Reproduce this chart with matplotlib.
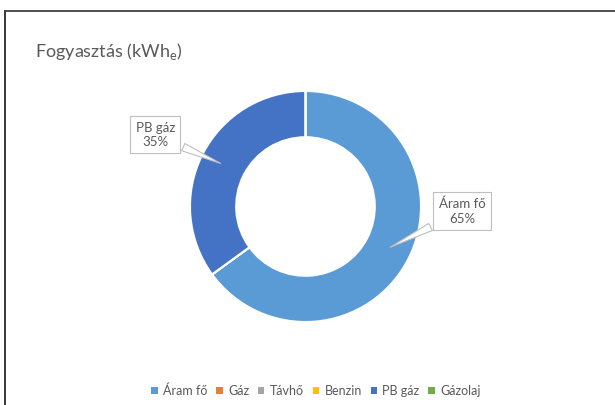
import matplotlib

matplotlib.use("Agg")
import matplotlib.pyplot as plt
import numpy as np
from matplotlib.lines import Line2D
from matplotlib.patches import Patch

plt.rcParams["font.family"] = ["Lato", "DejaVu Sans"]

categories = ["Áram fő", "Gáz", "Távhő", "Benzin", "PB gáz", "Gázolaj"]
shares = [65, 0, 0, 0, 35, 0]
colors = ["#5B9BD5", "#ED7D31", "#A5A5A5", "#FFC000", "#4472C4", "#70AD47"]
title = "Fogyasztás (kWh$_\\mathregular{e}$)"

TEXT = "#595959"
W, H = 615, 405

fig = plt.figure(figsize=(W / 100, H / 100), dpi=100)

# donut axes: centre at (305.5, 206.5) px from top-left, radius 115.5 px
cx, cy, r_px = 305.5, 206.5, 115.5
half = 120
ax = fig.add_axes([(cx - half) / W, (H - cy - half) / H, 2 * half / W, 2 * half / H])
lim = half / r_px

wedges, _ = ax.pie(
    shares, colors=colors, startangle=90, counterclock=False, radius=1,
    wedgeprops=dict(width=0.4, edgecolor="white", linewidth=1.5),
)
ax.set_xlim(-lim, lim)
ax.set_ylim(-lim, lim)
ax.set_aspect("equal")
ax.axis("off")

# callout boxes (position of each label box in data units)
label_pos = {"Áram fő": (1.355, -0.04), "PB gáz": (-1.30, 0.62)}
total = sum(shares)
start = 90.0
for name, val in zip(categories, shares):
    sweep = 360.0 * val / total
    mid = np.deg2rad(start - sweep / 2)
    start -= sweep
    if name not in label_pos:
        continue
    tip = (0.8 * np.cos(mid), 0.8 * np.sin(mid))
    ax.annotate(
        f"{name}\n{val:.0f}%", xy=tip, xytext=label_pos[name],
        ha="center", va="center", fontsize=9.5, color=TEXT, linespacing=1.25,
        bbox=dict(boxstyle="square,pad=0.4", fc="white", ec="#BFBFBF", lw=0.8),
        arrowprops=dict(arrowstyle="wedge,tail_width=0.6,shrink_factor=0.5",
                        fc="white", ec="#BFBFBF", lw=0.8),
        annotation_clip=False,
    )

fig.text(35 / W, 1 - 52 / H, title, fontsize=13, color=TEXT, ha="left", va="center")

handles = [Patch(facecolor=c, edgecolor="none") for c in colors]
fig.legend(
    handles, categories, loc="center", bbox_to_anchor=(316 / W, 1 - 391 / H),
    ncol=6, frameon=False, fontsize=9, labelcolor=TEXT,
    handlelength=0.5, handleheight=0.5, handletextpad=0.45, columnspacing=0.7,
)

# chart border (only top and left edges visible in the crop)
fig.add_artist(Line2D([4.5 / W, 4.5 / W], [0, 1 - 11 / H], color="#262626", lw=1.3))
fig.add_artist(Line2D([4.5 / W, 1], [1 - 11 / H, 1 - 11 / H], color="#404040", lw=1.3))

fig.savefig("out.png", dpi=100)
